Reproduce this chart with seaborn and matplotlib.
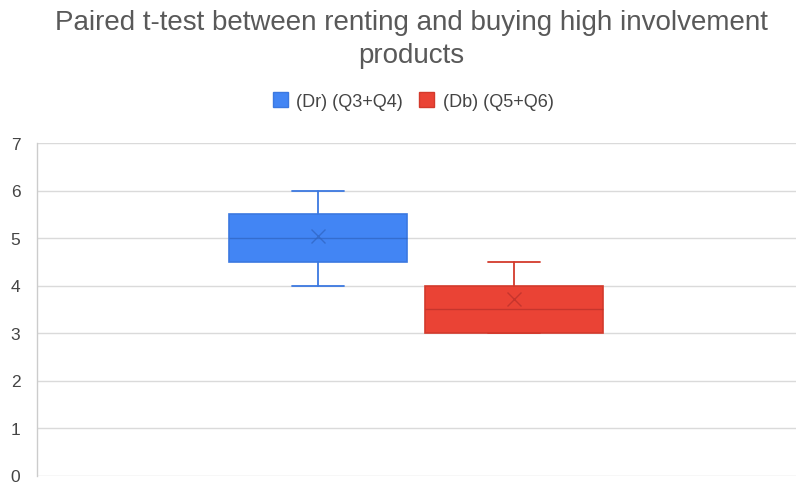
import matplotlib
matplotlib.use("Agg")
import matplotlib.pyplot as plt
import matplotlib.patches as mpatches
import seaborn as sns

# Summary statistics of the two paired measures
series = ["(Dr) (Q3+Q4)", "(Db) (Q5+Q6)"]
whisker_low = [4.0, 3.0]
q1 = [4.5, 3.0]
median = [5.0, 3.5]
q3 = [5.5, 4.0]
whisker_high = [6.0, 4.5]
mean = [5.04, 3.71]
y_ticks = [0, 1, 2, 3, 4, 5, 6, 7]

fill_colors = ["#4285F4", "#EA4335"]
edge_colors = ["#3B78E0", "#D33A2C"]
dark_colors = ["#2F64C0", "#B8302A"]

sns.set_theme(style="whitegrid")
plt.rcParams["font.family"] = ["Liberation Sans", "DejaVu Sans"]

fig = plt.figure(figsize=(7.96, 4.85), dpi=100)
ax = fig.add_axes([37 / 796, 8.5 / 485, 759 / 796, 332.5 / 485])

stats = []
for i, name in enumerate(series):
    stats.append(dict(label=name, whislo=whisker_low[i], q1=q1[i], med=median[i],
                      q3=q3[i], whishi=whisker_high[i], mean=mean[i], fliers=[]))

for i, st in enumerate(stats):
    ax.bxp([st], positions=[i], widths=0.908, patch_artist=True, showmeans=True,
           showfliers=False,
           boxprops=dict(facecolor=fill_colors[i], edgecolor=edge_colors[i], linewidth=1.2),
           medianprops=dict(color=dark_colors[i], linewidth=1.0, alpha=0.7),
           whiskerprops=dict(color=edge_colors[i], linewidth=1.3),
           capprops=dict(color=edge_colors[i], linewidth=1.3),
           meanprops=dict(marker="x", markeredgecolor=dark_colors[i], markersize=10,
                          markeredgewidth=1.0, alpha=0.7),
           capwidths=0.27, zorder=3)

ax.set_xlim(-1.434, 2.439)
ax.set_ylim(0, 7)
ax.set_yticks(y_ticks)
ax.set_yticklabels([str(t) for t in y_ticks], color="#444444", fontsize=12.5)
ax.set_xticks([])
ax.tick_params(axis="y", length=0, pad=12)
ax.grid(axis="y", color="#DADADA", linewidth=1.0)
ax.grid(axis="x", visible=False)
for side in ["top", "right", "bottom"]:
    ax.spines[side].set_visible(False)
ax.spines["left"].set_color("#CCCCCC")
ax.spines["left"].set_linewidth(1.0)
ax.set_facecolor("white")

fig.text(411 / 796, 1 - 39.5 / 485,
         "Paired t-test between renting and buying high involvement\nproducts",
         ha="center", va="center", fontsize=20, color="#595959", linespacing=1.38)

handles = [mpatches.Patch(facecolor=fill_colors[i], edgecolor=edge_colors[i], label=series[i])
           for i in range(len(series))]
fig.legend(handles=handles, loc="center", bbox_to_anchor=(413 / 796, 1 - 102 / 485),
           ncol=2, frameon=False, fontsize=13, labelcolor="#444444",
           handlelength=0.85, handleheight=0.85, handletextpad=0.45, columnspacing=0.9)

fig.savefig("out.png", dpi=100, facecolor="white")
